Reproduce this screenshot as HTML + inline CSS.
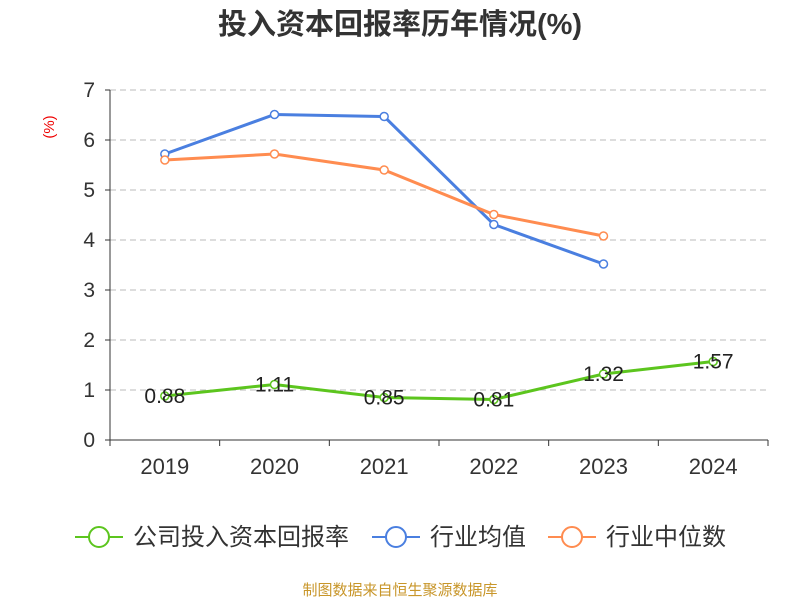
<!DOCTYPE html>
<html><head><meta charset="utf-8"><style>
body{margin:0;background:#fff;}
svg text{font-family:"Liberation Sans","Noto Sans CJK SC",sans-serif;}
</style></head><body>
<svg id="c" width="800" height="600">
<text x="400" y="34" text-anchor="middle" font-size="29" font-weight="bold" fill="#333">投入资本回报率历年情况(%)</text>
<text x="0" y="0" transform="translate(54,127) rotate(-90)" text-anchor="middle" font-size="15" fill="#e00">(%)</text>
<g id="grid"></g><g id="axes"></g><g id="series"></g>
<g id="legend"></g>
<text x="400" y="595" text-anchor="middle" font-size="15" fill="#c8962a">制图数据来自恒生聚源数据库</text>
</svg>
<script>
const categories=["2019","2020","2021","2022","2023","2024"];
const companyVals=[0.88,1.11,0.85,0.81,1.32,1.57];
const industryAvg=[5.72,6.51,6.47,4.31,3.52];
const industryMed=[5.6,5.72,5.4,4.51,4.08];
const yTicks=[0,1,2,3,4,5,6,7];
const NS="http://www.w3.org/2000/svg";
const x0=110,x1=768,y0=440,yTop=90,yMax=7;
const bw=(x1-x0)/categories.length;
const X=i=>x0+bw*(i+0.5);
const Y=v=>y0-(v/yMax)*(y0-yTop);
function mk(t,a,p){const e=document.createElementNS(NS,t);for(const k in a)e.setAttribute(k,a[k]);document.getElementById(p).appendChild(e);return e;}
yTicks.forEach(v=>{
 if(v>0){const l=mk("line",{x1:x0,x2:x1,y1:Y(v),y2:Y(v),stroke:"#bbb","stroke-dasharray":"6,4"},"grid");
 
 }
 const t=mk("text",{x:x0-15,y:Y(v)+7,"text-anchor":"end","font-size":21,fill:"#333"},"axes");t.textContent=v;
 
 
 mk("line",{x1:x0-5,x2:x0,y1:Y(v),y2:Y(v),stroke:"#333"},"axes");
});
mk("line",{x1:x0,x2:x0,y1:yTop,y2:y0,stroke:"#333"},"axes");
mk("line",{x1:x0,x2:x1,y1:y0,y2:y0,stroke:"#333"},"axes");
for(let i=0;i<=categories.length;i++)mk("line",{x1:x0+bw*i,x2:x0+bw*i,y1:y0,y2:y0+6,stroke:"#333"},"axes");
categories.forEach((c,i)=>{const t=mk("text",{x:X(i),y:y0+34,"text-anchor":"middle","font-size":22,fill:"#333"},"axes");t.textContent=c;
 
 });
function series(vals,color,name,labels){
 const p=mk("polyline",{points:vals.map((v,i)=>X(i)+","+Y(v)).join(" "),fill:"none",stroke:color,"stroke-width":3},"series");
 
 
 vals.forEach((v,i)=>{const c=mk("circle",{cx:X(i),cy:Y(v),r:4,fill:"#fff",stroke:color,"stroke-width":1.5},"series");
  
  
  if(labels){const t=mk("text",{x:X(i),y:Y(v)+7,"text-anchor":"middle","font-size":21,fill:"#222"},"series");t.textContent=v.toFixed(2);
  
  }});
}
series(industryAvg,"#4a7fe0","industry-average",false);
series(industryMed,"#ff8c50","industry-median",false);
series(companyVals,"#5cc51e","company-roic",true);
[["公司投入资本回报率","#5cc51e",75],["行业均值","#4a7fe0",372],["行业中位数","#ff8c50",548]].forEach(([n,c,x])=>{
 const l=mk("line",{x1:x,x2:x+48,y1:537,y2:537,stroke:c,"stroke-width":2},"legend");
 
 
 const ci=mk("circle",{cx:x+24,cy:537,r:10,fill:"#fff",stroke:c,"stroke-width":2},"legend");
 
 
 const t=mk("text",{x:x+58,y:545,"font-size":24,fill:"#333"},"legend");t.textContent=n;
 
 
});
</script>
</body></html>
